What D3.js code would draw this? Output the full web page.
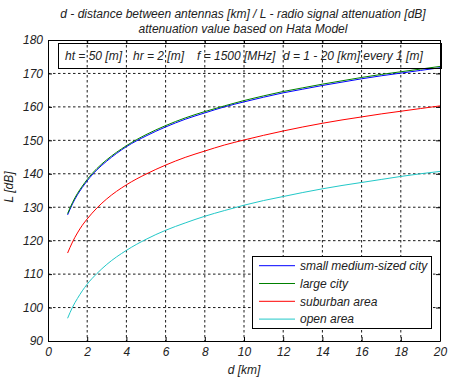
<!DOCTYPE html>
<html><head><meta charset="utf-8">
<script src="https://cdn.jsdelivr.net/npm/d3@7"></script>
<style>
body{margin:0;background:#fff;}
svg{display:block;}
text{font-family:"Liberation Sans",Arial,sans-serif;font-style:italic;fill:#222;}
</style></head>
<body><svg id="c" width="451" height="379"></svg>
<script>
const distances = [1, 1.25, 1.5, 1.75, 2, 2.5, 3, 4, 5, 6, 7, 8, 9, 10, 11, 12, 13, 14, 15, 16, 17, 18, 19, 20];
const smallMediumCity = [127.7, 131.0, 133.7, 135.9, 137.9, 141.2, 143.8, 148.1, 151.3, 154.0, 156.3, 158.2, 160.0, 161.5, 162.9, 164.2, 165.3, 166.4, 167.4, 168.4, 169.3, 170.1, 170.9, 171.7];
const largeCity = [128.1, 131.4, 134.1, 136.3, 138.3, 141.6, 144.2, 148.4, 151.7, 154.4, 156.7, 158.6, 160.3, 161.9, 163.3, 164.6, 165.7, 166.8, 167.8, 168.8, 169.7, 170.5, 171.3, 172.1];
const suburbanArea = [116.3, 119.6, 122.3, 124.6, 126.5, 129.8, 132.5, 136.7, 139.9, 142.6, 144.9, 146.8, 148.6, 150.1, 151.5, 152.8, 154.0, 155.1, 156.1, 157.0, 157.9, 158.7, 159.5, 160.3];
const openArea = [96.8, 100.1, 102.7, 105.0, 107.0, 110.2, 112.9, 117.1, 120.4, 123.1, 125.3, 127.3, 129.0, 130.6, 132.0, 133.2, 134.4, 135.5, 136.5, 137.4, 138.3, 139.2, 140.0, 140.7];
const seriesNames = ["small medium-sized city", "large city", "suburban area", "open area"];
const seriesColors = ["#0000ff", "#008000", "#ff0000", "#22c8c8"];
const xTicks = [0, 2, 4, 6, 8, 10, 12, 14, 16, 18, 20];
const yTicks = [90, 100, 110, 120, 130, 140, 150, 160, 170, 180];
const titleLines = ["d - distance between antennas [km] / L - radio signal attenuation [dB]", "attenuation value based on Hata Model"];
const infoParts = ["ht = 50 [m]", "hr = 2 [m]", "f = 1500 [MHz]", "d = 1 - 20 [km] every 1 [m]"];

const svg = d3.select("#c");
const L = 48, R = 440, T = 40, B = 341;
const x = d3.scaleLinear().domain([0, 20]).range([L, R]);
const y = d3.scaleLinear().domain([90, 180]).range([B, T]);

// grid
const grid = svg.append("g").attr("stroke", "#000").attr("stroke-width", 0.9).attr("stroke-dasharray", "2.5,2.5");
xTicks.slice(1, -1).forEach(t => grid.append("line").attr("x1", x(t)).attr("x2", x(t)).attr("y1", T).attr("y2", B));
yTicks.slice(1, -1).forEach(t => grid.append("line").attr("x1", L).attr("x2", R).attr("y1", y(t)).attr("y2", y(t)));

// axes
const xa = svg.append("g").attr("transform", `translate(0,${B})`).call(d3.axisBottom(x).tickValues(xTicks).tickSizeInner(-4).tickSizeOuter(0).tickPadding(6));
const ya = svg.append("g").attr("transform", `translate(${L},0)`).call(d3.axisLeft(y).tickValues(yTicks).tickSizeInner(-4).tickSizeOuter(0).tickPadding(5));
const xt = svg.append("g").attr("transform", `translate(0,${T})`).call(d3.axisTop(x).tickValues(xTicks).tickSizeInner(-4).tickSizeOuter(0).tickFormat(""));
const yr = svg.append("g").attr("transform", `translate(${R},0)`).call(d3.axisRight(y).tickValues(yTicks).tickSizeInner(-4).tickSizeOuter(0).tickFormat(""));
[xa, ya, xt, yr].forEach(g => { g.select(".domain").attr("stroke", "#000"); g.selectAll(".tick line").attr("stroke", "#000"); });
[xa, ya].forEach(g => g.selectAll(".tick text").attr("font-size", 12).attr("font-family", null).style("fill", "#222"));
svg.selectAll(".tick text").style("font-style", "italic");

// curves
const allSeries = [smallMediumCity, largeCity, suburbanArea, openArea];
const line = d3.line().x((d, i) => x(distances[i])).y(d => y(d)).curve(d3.curveMonotoneX);
[0, 1, 2, 3].forEach(k => {
  svg.append("path").datum(allSeries[k]).attr("d", line).attr("fill", "none").attr("stroke", seriesColors[k]).attr("stroke-width", 1);
});

// info box
svg.append("rect").attr("x", 58.5).attr("y", 43.5).attr("width", 383).attr("height", 25).attr("fill", "none").attr("stroke", "#000").attr("stroke-width", 1);
const infoX = [65, 133, 197, 283];
infoParts.forEach((s, i) => svg.append("text").attr("x", infoX[i]).attr("y", 59.5).attr("font-size", 12).text(s));

// legend
const lg = svg.append("g");
lg.append("rect").attr("x", 252.5).attr("y", 256.5).attr("width", 179).attr("height", 72).attr("fill", "#fff").attr("stroke", "#000");
seriesNames.forEach((n, i) => {
  const yy = 265.7 + i * 17.8;
  lg.append("line").attr("x1", 259).attr("x2", 295).attr("y1", yy).attr("y2", yy).attr("stroke", seriesColors[i]).attr("stroke-width", 1);
  lg.append("text").attr("x", 300).attr("y", yy + 4.3).attr("font-size", 12).text(n);
});

// titles
titleLines.forEach((t, i) => svg.append("text").attr("x", 243).attr("y", 17.5 + i * 15.5).attr("text-anchor", "middle").attr("font-size", 12).text(t));
svg.append("text").attr("x", 244).attr("y", 373.5).attr("text-anchor", "middle").attr("font-size", 12).text("d [km]");
svg.append("text").attr("transform", "translate(13,187) rotate(-90)").attr("text-anchor", "middle").attr("font-size", 12).text("L [dB]");
</script></body></html>
